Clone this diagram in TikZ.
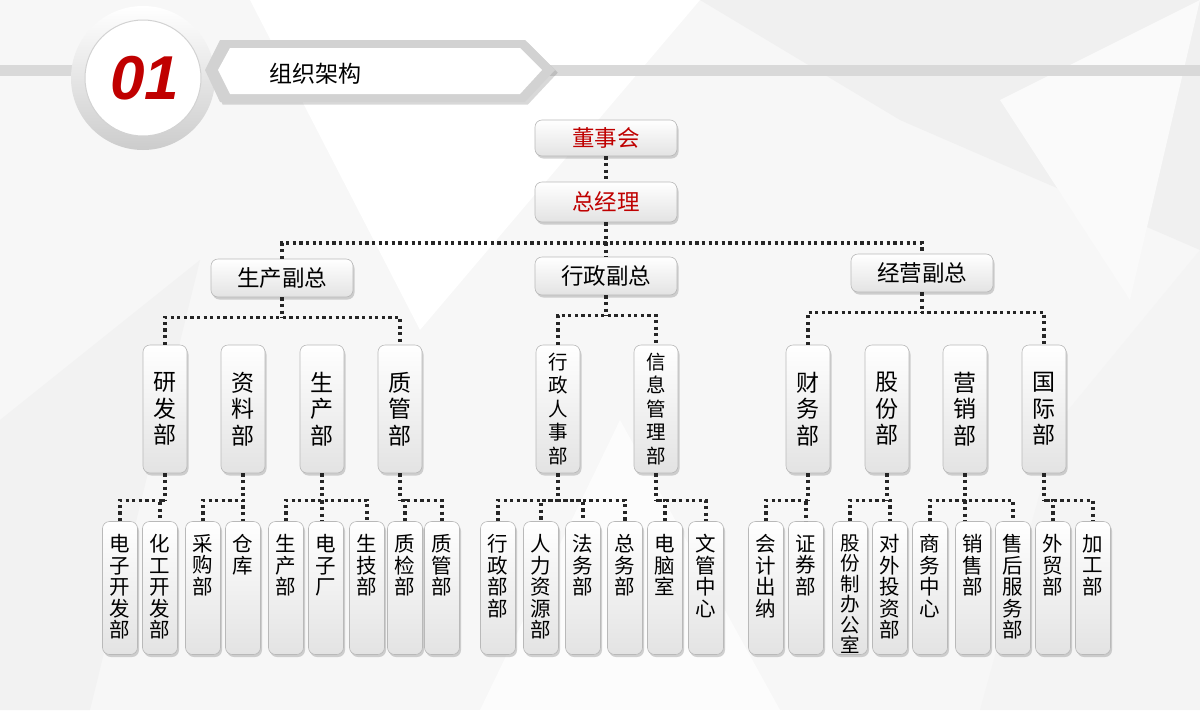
\documentclass[tikz,border=0pt]{standalone}
\usepackage{fontspec}
\setmainfont{Noto Sans CJK SC}
\usetikzlibrary{shadows}
\tikzset{
  box/.style={draw=gray!55, line width=0.6pt, rounded corners=7pt, top color=white, bottom color=gray!22,
    drop shadow={shadow xshift=1.5pt, shadow yshift=-2.5pt, opacity=0.35}},
  wbox/.style={box, minimum width=142pt, minimum height=38pt, font=\fontsize{22.5}{24}\selectfont},
  tbox/.style={box, minimum width=44pt, minimum height=128pt, align=center, font=\fontsize{23}{26.5}\selectfont, inner sep=0pt},
  tfive/.style={font=\fontsize{19.5}{23.5}\selectfont},
  tthree/.style={},
  sbox/.style={box, minimum width=35pt, minimum height=133pt, inner sep=0pt},
  stext/.style={anchor=north, align=center, font=\fontsize{20.5}{21.5}\selectfont, inner sep=0pt},
  ssix/.style={font=\fontsize{19.5}{20.5}\selectfont},
  con/.style={line width=3.2pt, dash pattern=on 3.2pt off 3.4pt, black!85},
}
\begin{document}
\begin{tikzpicture}[x=1pt,y=-1pt]
\useasboundingbox (0,0) rectangle (1200,710);
\fill[gray!6] (0,0) rectangle (1200,710);
% background facets
\fill[white] (250,0) -- (700,0) -- (420,330) -- cycle;
\fill[gray!12] (700,0) -- (1200,0) -- (1200,250) -- (900,120) -- cycle;
\fill[gray!9] (1200,250) -- (1200,710) -- (980,710) -- (1060,420) -- cycle;
\fill[gray!10] (0,420) -- (200,260) -- (90,710) -- (0,710) -- cycle;
\fill[white!60!gray!5] (480,710) -- (620,420) -- (780,710) -- cycle;
\fill[gray!4] (1000,100) -- (1200,0) -- (1130,300) -- cycle;
% header
\fill[gray!30] (0,65) rectangle (1200,76);
\shade[top color=white, bottom color=gray!40] (143,78) circle (72);
\fill[white] (143,78) circle (58);
\draw[gray!35, line width=1pt] (143,78) circle (58);
\node (num) at (145,78) {\fontspec{Liberation Sans}\fontsize{62}{62}\selectfont\bfseries\itshape\color[HTML]{C00000}01};
\fill[gray!35, drop shadow={opacity=0.3}] (220,40) -- (525,40) -- (555,70) -- (525,102) -- (220,102) -- (205,70) -- cycle;
\fill[white] (230,48) -- (520,48) -- (542,70) -- (520,94) -- (230,94) -- (218,70) -- cycle;
\node[anchor=west, font=\fontsize{23}{24}\selectfont] (title) at (266,74) {组织架构};
% level 0-2
\node[wbox, text=red!75!black, minimum height=36pt] (dsh) at (606,138) {董事会};
\node[wbox, text=red!75!black, minimum height=40pt] (zjl) at (606,202) {总经理};
\node[wbox] (sc) at (282,278) {生产副总};
\node[wbox] (xz) at (606,276) {行政副总};
\node[wbox] (jy) at (922,273) {经营副总};
\draw[con] (dsh) -- (zjl);
\draw[con] (zjl.south) -- (606,243);
\draw[con] (sc.north) |- (606,243) -| (jy.north);
\draw[con] (606,243) -- (xz.north);
% level 3
\foreach \n/\x/\s/\t in {yf/165/tthree/研\\发\\部, zl/243/tthree/资\\料\\部, sp/322/tthree/生\\产\\部, zg/400/tthree/质\\管\\部,
  rs/558/tfive/行\\政\\人\\事\\部, xx/656/tfive/信\\息\\管\\理\\部,
  cw/808/tthree/财\\务\\部, gf/887/tthree/股\\份\\部, yx/965/tthree/营\\销\\部, gj/1044/tthree/国\\际\\部}
  {\node[tbox, \s] (\n) at (\x,409) {\t};}
\foreach \p/\a/\b in {sc/yf/zg, xz/rs/xx, jy/cw/gj}{
  \draw[con] (\p.south) -- ++(0,20) coordinate (\p-bus);
  \draw[con] (\a.north) |- (\p-bus) -| (\b.north);
}
% level 4
\foreach \n/\x/\s/\t in {a1/120/tthree/电\\子\\开\\发\\部, a2/160/tthree/化\\工\\开\\发\\部, b1/203/tthree/采\\购\\部, b2/243/tthree/仓\\库,
  c1/286/tthree/生\\产\\部, c2/326/tthree/电\\子\\厂, c3/367/tthree/生\\技\\部, d1/405/tthree/质\\检\\部, d2/442/tthree/质\\管\\部,
  e1/498/tthree/行\\政\\部\\部, e2/541/tthree/人\\力\\资\\源\\部, e3/583/tthree/法\\务\\部, e4/625/tthree/总\\务\\部,
  f1/665/tthree/电\\脑\\室, f2/706/tthree/文\\管\\中\\心,
  g1/766/tthree/会\\计\\出\\纳, g2/806/tthree/证\\券\\部, h1/850/ssix/股\\份\\制\\办\\公\\室, h2/890/tthree/对\\外\\投\\资\\部,
  i1/930/tthree/商\\务\\中\\心, i2/973/tthree/销\\售\\部, i3/1013/tthree/售\\后\\服\\务\\部, j1/1053/tthree/外\\贸\\部, j2/1093/tthree/加\\工\\部}
  {\node[sbox] (\n) at (\x,588) {};
   \node[stext, \s] at ([yshift=-13pt]\n.north) {\t};}
\foreach \p/\a/\b in {yf/a1/a2, zl/b1/b2, sp/c1/c3, zg/d1/d2, rs/e1/e4, xx/f1/f2, cw/g1/g2, gf/h1/h2, yx/i1/i3, gj/j1/j2}{
  \draw[con] (\p.south) -- ++(0,27) coordinate (\p-bus);
  \draw[con] (\a.north) |- (\p-bus) -| (\b.north);
}
\draw[con] (sp-bus) -- (sp-bus |- c2.north);
\draw[con] (rs-bus) -| (e2.north);
\draw[con] (rs-bus) -| (e3.north);
\draw[con] (yx-bus) -- (yx-bus |- i2.north);
\end{tikzpicture}
\end{document}
